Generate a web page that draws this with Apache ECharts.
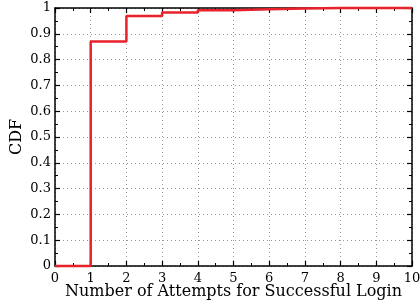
<!DOCTYPE html>
<html>
<head>
<meta charset="utf-8">
<script src="https://cdn.jsdelivr.net/npm/echarts@6/dist/echarts.min.js"></script>
<style>
  html, body { margin: 0; padding: 0; background: #fff; }
  #chart { width: 420px; height: 307px; }
</style>
</head>
<body>
<div id="chart"></div>
<script>
// attempts (x) and CDF value reached at that attempt
var attempts = [0, 1, 2, 3, 4, 5, 6, 7, 8, 9, 10];
var cdfValues = [0, 0.87, 0.969, 0.983, 0.991, 0.995, 0.998, 1, 1, 1, 1];
var xTicks = ["0", "1", "2", "3", "4", "5", "6", "7", "8", "9", "10"];
var yTicks = ["0", "0.1", "0.2", "0.3", "0.4", "0.5", "0.6", "0.7", "0.8", "0.9", "1"];

var font = "DejaVu Serif";

var points = attempts.map(function (x, i) { return [x, cdfValues[i]]; });

var tickStyle = { inside: true, length: 5, lineStyle: { color: "#000", width: 1.2 } };
var minorStyle = { show: true, splitNumber: 2, length: 3, lineStyle: { color: "#000", width: 1 } };
var gridLine = { show: true, lineStyle: { color: "#999", type: [1, 3], width: 1 } };

var chart = echarts.init(document.getElementById("chart"));
chart.setOption({
  animation: false,
  grid: { left: 55, right: 8, top: 8, bottom: 41, containLabel: false, outerBoundsMode: "none" },
  xAxis: [
    {
      type: "value", min: 0, max: 10, interval: 1,
      position: "bottom",
      axisLine: { show: true, onZero: false, lineStyle: { color: "#000", width: 1.5 } },
      axisTick: tickStyle,
      minorTick: minorStyle,
      splitLine: gridLine,
      axisLabel: {
        fontFamily: font, fontSize: 13, color: "#000", margin: 6,
        formatter: function (v) { return xTicks[Math.round(v)]; }
      },
      name: "Number of Attempts for Successful Login",
      nameLocation: "middle", nameGap: 18, nameMoveOverlap: false,
      nameTextStyle: { fontFamily: font, fontSize: 16, color: "#000" }
    },
    {
      type: "value", min: 0, max: 10, interval: 1,
      position: "top",
      axisLine: { show: true, onZero: false, lineStyle: { color: "#000", width: 1.5 } },
      axisTick: tickStyle,
      minorTick: minorStyle,
      splitLine: { show: false },
      axisLabel: { show: false }
    }
  ],
  yAxis: [
    {
      type: "value", min: 0, max: 1, interval: 0.1,
      position: "left",
      axisLine: { show: true, onZero: false, lineStyle: { color: "#000", width: 1.5 } },
      axisTick: tickStyle,
      minorTick: minorStyle,
      splitLine: gridLine,
      axisLabel: {
        fontFamily: font, fontSize: 13, color: "#000", margin: 4,
        formatter: function (v) { return yTicks[Math.round(v * 10)]; }
      },
      name: "CDF",
      nameLocation: "middle", nameGap: 30, nameRotate: 90, nameMoveOverlap: false,
      nameTextStyle: { fontFamily: font, fontSize: 16, color: "#000" }
    },
    {
      type: "value", min: 0, max: 1, interval: 0.1,
      position: "right",
      axisLine: { show: true, onZero: false, lineStyle: { color: "#000", width: 1.5 } },
      axisTick: tickStyle,
      minorTick: minorStyle,
      splitLine: { show: false },
      axisLabel: { show: false }
    }
  ],
  series: [
    {
      type: "line",
      step: "end",
      data: points,
      symbol: "none",
      lineStyle: { color: "#e8222b", width: 2.5 },
      clip: false
    }
  ]
});
</script>
</body>
</html>
